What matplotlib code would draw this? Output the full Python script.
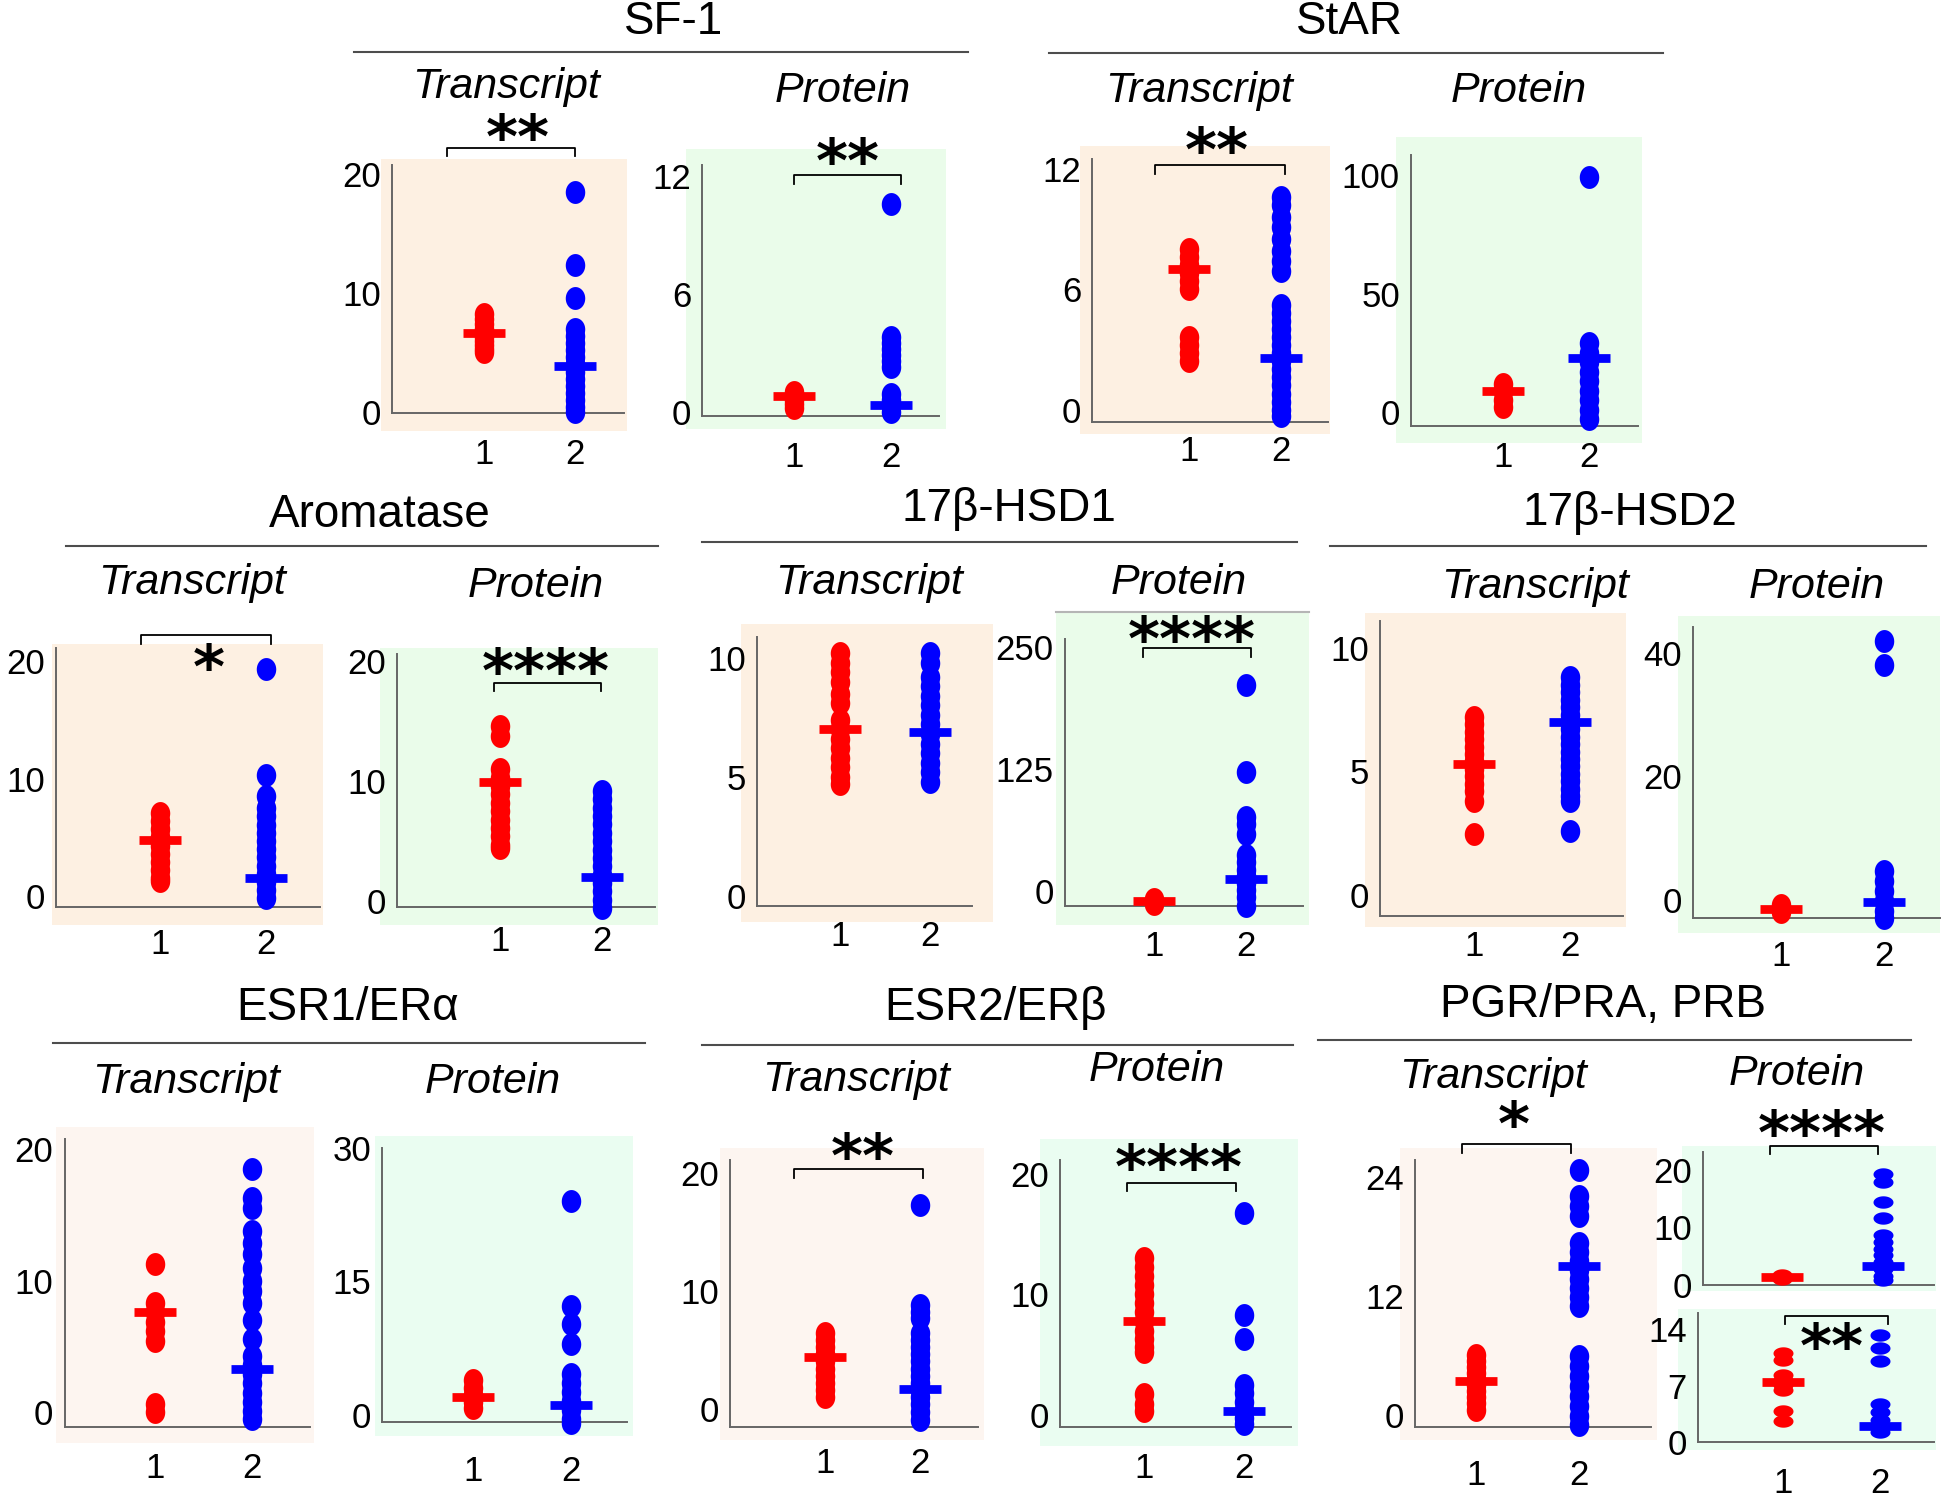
import numpy as np
import matplotlib.pyplot as plt
from matplotlib.path import Path
from matplotlib.patches import Rectangle
from matplotlib.lines import Line2D

plt.rcParams['font.family'] = ['Liberation Sans', 'DejaVu Sans']

# values: group 1 (red), group 2 (blue), bar levels [g1, g2]
sf1_tr_g1 = [8.2, 7.8, 7.4, 7.0, 6.6, 6.3, 6.0, 5.6, 5.3, 5.0]
sf1_tr_g2 = [18.5, 12.3, 9.6, 7.0, 6.4, 5.8, 5.2, 4.6, 4.0, 3.4, 2.8, 2.2, 1.6, 1.0, 0.4, 0.0]
sf1_tr_bar = [6.6, 3.9]
sf1_pr_g1 = [1.0, 0.8, 0.6, 0.4, 0.2]
sf1_pr_g2 = [10.6, 3.8, 3.5, 3.2, 2.9, 2.6, 2.3, 0.9, 0.6, 0.3, 0.0]
sf1_pr_bar = [0.8, 0.35]

star_tr_g1 = [8.0, 7.6, 7.2, 6.8, 6.4, 6.0, 3.6, 3.2, 2.8, 2.4]
star_tr_g2 = [10.6, 10.2, 9.6, 9.1, 8.5, 7.9, 7.4, 6.9, 5.2, 4.8, 4.4, 4.0, 3.6, 3.2,
              2.8, 2.4, 2.0, 1.6, 1.2, 0.8, 0.4, 0.0, -0.3]
star_tr_bar = [7.0, 2.55]
star_pr_g1 = [12, 9, 5, 2]
star_pr_g2 = [99, 29, 25, 21, 17, 13, 9, 5, 1, -3]
star_pr_bar = [9, 23]

arom_tr_g1 = [7.1, 6.4, 5.7, 5.0, 4.3, 3.6, 2.9, 2.2, 1.5, 1.3]
arom_tr_g2 = [19.4, 10.3, 8.5, 7.5, 6.8, 6.1, 5.4, 4.7, 4.0, 3.3, 2.6, 1.9, 1.2, 0.5, -0.2]
arom_tr_bar = [4.8, 1.5]
arom_pr_g1 = [14.6, 13.8, 11.0, 10.3, 9.6, 8.9, 8.2, 7.5, 6.8, 6.1, 5.4, 4.7, 4.4]
arom_pr_g2 = [9.2, 8.5, 7.8, 7.1, 6.4, 5.7, 5.0, 4.3, 3.6, 2.9, 2.2, 1.5, 0.8, 0.1, -0.6]
arom_pr_bar = [9.9, 2.0]

hsd1_tr_g1 = [10.2, 9.8, 9.4, 9.0, 8.5, 8.1, 7.4, 7.0, 6.6, 6.2, 5.8, 5.4, 5.0, 4.7]
hsd1_tr_g2 = [10.2, 9.8, 9.2, 8.8, 8.4, 8.0, 7.6, 7.2, 6.8, 6.4, 6.0, 5.6, 5.2, 4.8]
hsd1_tr_bar = [7.0, 6.9]
hsd1_pr_g1 = [-8, -13]
hsd1_pr_g2 = [211, 122, 76, 69, 58, 37, 30, 22, 15, 8, 1, -6, -15]
hsd1_pr_bar = [-10, 12.6]

hsd2_tr_g1 = [7.2, 6.9, 6.6, 6.3, 6.0, 5.7, 5.4, 5.1, 4.8, 4.5, 4.2, 3.8, 2.45]
hsd2_tr_g2 = [8.8, 8.5, 8.2, 7.9, 7.6, 7.3, 7.0, 6.7, 6.4, 6.1, 5.8, 5.5, 5.2, 4.9,
              4.6, 4.3, 4.0, 3.8, 2.6]
hsd2_tr_bar = [5.3, 7.0]
hsd2_pr_g1 = [-0.8, -2.0]
hsd2_pr_g2 = [41.9, 38.1, 4.6, 3.0, 1.4, -0.2, -1.8, -3.0]
hsd2_pr_bar = [-1.5, -0.4]

esr1_tr_g1 = [11.3, 8.3, 7.6, 6.9, 6.2, 5.4, 0.6, 0.0]
esr1_tr_g2 = [18.5, 16.3, 15.5, 13.8, 12.9, 12.0, 11.0, 10.0, 9.2, 8.3, 7.0, 5.6, 4.3,
              3.6, 2.9, 2.2, 1.5, 0.8, 0.1, -0.5]
esr1_tr_bar = [7.6, 3.3]
esr1_pr_g1 = [3.9, 3.0, 2.2, 1.5, 0.8]
esr1_pr_g2 = [24.0, 12.2, 10.2, 8.0, 4.6, 3.6, 2.6, 1.6, 0.6, -0.4, -0.9]
esr1_pr_bar = [2.0, 1.1]

esr2_tr_g1 = [6.4, 5.8, 5.2, 4.6, 4.0, 3.4, 2.8, 2.2, 1.6, 1.0]
esr2_tr_g2 = [17.3, 8.8, 8.2, 7.7, 6.4, 5.8, 5.2, 4.6, 4.0, 3.4, 2.8, 2.2, 1.6, 1.0,
              0.4, -0.3, -1.0]
esr2_tr_bar = [4.4, 1.7]
esr2_pr_g1 = [13.0, 12.3, 11.5, 10.8, 10.0, 9.3, 8.5, 7.8, 7.0, 6.3, 5.6, 5.2, 1.7, 0.9, 0.3]
esr2_pr_g2 = [16.8, 8.3, 6.3, 2.5, 1.8, 1.1, 0.4, -0.3, -0.8]
esr2_pr_bar = [7.8, 0.3]

pgr_tr_g1 = [6.0, 5.4, 4.8, 4.2, 3.6, 3.0, 2.4, 1.8, 1.2, 0.5]
pgr_tr_g2 = [24.7, 22.0, 21.0, 20.0, 17.3, 16.4, 15.5, 14.6, 13.7, 12.8, 11.9, 11.0,
             5.9, 4.9, 3.9, 2.9, 1.9, 0.9, -0.1, -1.0]
pgr_tr_bar = [3.4, 15.0]
pra_pr_g1 = [1.0, 1.6]
pra_pr_g2 = [19.4, 18.0, 14.5, 11.6, 8.7, 7.5, 6.3, 5.1, 3.9, 2.7, 1.5, 0.8]
pra_pr_bar = [1.4, 3.3]
prb_pr_g1 = [11.0, 10.2, 8.3, 7.7, 7.1, 6.5, 3.9, 2.6]
prb_pr_g2 = [13.2, 11.6, 10.0, 4.7, 3.7, 2.8, 2.0, 1.2]
prb_pr_bar = [7.5, 2.0]

W, H = 1946, 1496
K = W / 1568.0   # layout numbers below are in preview pixels
TICK_FS = 25

fig = plt.figure(figsize=(W / 100, H / 100), dpi=100)


def fx(x):
    return x * K / W


def fy(y):
    return 1 - y * K / H


theta = np.linspace(0, 2 * np.pi, 48)
tall_dot = Path(np.column_stack([0.85 * np.cos(theta), np.sin(theta)]))
flat_dot = Path(np.column_stack([np.cos(theta), 0.62 * np.sin(theta)]))

PEACH = '#fdf0e2'
GREEN = '#eafcea'
PINK = '#fdf5f0'
MINT = '#eafdf1'


def panel(g1, g2, bar, bg, box, px, ticks, col, lab_y=None, dot=tall_dot, ms=16.5):
    x0, y0, x1, y1 = bg
    fig.add_artist(Rectangle((fx(x0), fy(y1)), fx(x1) - fx(x0), fy(y0) - fy(y1),
                             transform=fig.transFigure, facecolor=col,
                             edgecolor='none', zorder=-1))
    left, top, right, bottom = box
    ax = fig.add_axes([fx(left), fy(bottom), fx(right) - fx(left), fy(top) - fy(bottom)])
    ax.patch.set_visible(False)
    p1, p2 = px
    u = p2 - p1
    ax.set_xlim(1 - (p1 - left) / u, 2 + (right - p2) / u)
    t0, tt, vals = ticks
    s = (t0 - tt) / vals[-1]
    ax.set_ylim((t0 - bottom) / s, (t0 - top) / s)
    ax.plot(np.ones(len(g1)), g1, ls='none', marker=dot, ms=ms, mfc='#ff0000',
            mec='none', clip_on=False, zorder=3)
    ax.plot(np.full(len(g2), 2), g2, ls='none', marker=dot, ms=ms, mfc='#0000ff',
            mec='none', clip_on=False, zorder=4)
    hw = 21 / (u * K)
    ax.hlines(bar, [1 - hw, 2 - hw], [1 + hw, 2 + hw], colors=['#ff0000', '#0000ff'],
              lw=6.3, zorder=5)
    for side in ('top', 'right'):
        ax.spines[side].set_visible(False)
    for side in ('left', 'bottom'):
        ax.spines[side].set_color('#666666')
        ax.spines[side].set_linewidth(1.4)
    ax.set_yticks(vals)
    ax.set_yticklabels([str(v) for v in vals])
    ax.tick_params(axis='y', length=0, pad=8, labelsize=TICK_FS)
    if lab_y is None:
        ax.set_xticks([])
    else:
        ax.set_xticks([1, 2])
        ax.set_xticklabels(['1', '2'])
        em = TICK_FS * 100 / 72
        pad = ((lab_y - bottom) * K - 0.37 * em) * 72 / 100
        ax.tick_params(axis='x', length=0, pad=pad, labelsize=TICK_FS)
    return ax


def header(name, cx, cy, x0, x1, ly):
    fig.text(fx(cx), fy(cy), name, fontsize=33, ha='center', va='center')
    fig.add_artist(Line2D([fx(x0), fx(x1)], [fy(ly), fy(ly)], color='#4d4d4d', lw=1.5))


def sub(label, cx, cy):
    fig.text(fx(cx), fy(cy), label, fontsize=31, style='italic', ha='center', va='center')


def bracket(x0, x1, y, stars, sx, sy):
    d = 7
    fig.add_artist(Line2D([fx(x0), fx(x0), fx(x1), fx(x1)],
                          [fy(y + d), fy(y), fy(y), fy(y + d)], color='black', lw=1.3))
    fs = 44
    em = fs * 100 / 72
    fig.text(fx(sx), fy(sy + 0.5 * em / K), stars, fontsize=fs, family='DejaVu Sans',
             fontweight='bold', ha='center', va='baseline')


# ---- row 1
header('SF-1', 543, 18, 285, 780, 42)
header('StAR', 1087, 18, 845, 1340, 43)
sub('Transcript', 408, 70); sub('Protein', 679, 73)
sub('Transcript', 966, 73); sub('Protein', 1224, 73)
panel(sf1_tr_g1, sf1_tr_g2, sf1_tr_bar, (307, 128, 505, 347), (316, 133, 503, 333),
      (390, 463), (332, 140, [0, 10, 20]), PEACH, 363)
panel(sf1_pr_g1, sf1_pr_g2, sf1_pr_bar, (553, 120, 762, 346), (566, 133, 757, 335),
      (640, 718), (332, 142, [0, 6, 12]), GREEN, 366)
panel(star_tr_g1, star_tr_g2, star_tr_bar, (870, 118, 1072, 350), (880, 128, 1070, 340),
      (958, 1032), (330, 136, [0, 6, 12]), PEACH, 361)
panel(star_pr_g1, star_pr_g2, star_pr_bar, (1125, 110, 1323, 357), (1137, 125, 1320, 343),
      (1211, 1280), (332, 141, [0, 50, 100]), GREEN, 366)
bracket(360, 463, 119, '**', 417, 103)
bracket(640, 726, 141, '**', 683, 122)
bracket(931, 1035, 133, '**', 980, 113)

# ---- row 2
header('Aromatase', 306, 415, 53, 530, 440)
header('17\u03b2-HSD1', 813, 410, 566, 1045, 437)
header('17\u03b2-HSD2', 1313, 413, 1072, 1552, 440)
sub('Transcript', 155, 470); sub('Protein', 432, 472)
sub('Transcript', 700, 470); sub('Protein', 950, 470)
sub('Transcript', 1237, 473); sub('Protein', 1464, 473)
panel(arom_tr_g1, arom_tr_g2, arom_tr_bar, (42, 519, 260, 745), (45, 522, 258, 731),
      (129, 214), (722, 533, [0, 10, 20]), PEACH, 758)
panel(arom_pr_g1, arom_pr_g2, arom_pr_bar, (306, 522, 530, 745), (320, 527, 528, 731),
      (403, 485), (726, 533, [0, 10, 20]), GREEN, 756)
panel(hsd1_tr_g1, hsd1_tr_g2, hsd1_tr_bar, (597, 503, 800, 743), (610, 513, 783, 730),
      (677, 749), (722, 530, [0, 5, 10]), PEACH, 752)
panel(hsd1_pr_g1, hsd1_pr_g2, hsd1_pr_bar, (851, 492, 1055, 745), (858, 515, 1050, 730),
      (930, 1004), (718, 521, [0, 125, 250]), GREEN, 760)
fig.add_artist(Line2D([fx(851), fx(1055)], [fy(493), fy(493)], color='#b5b5b5', lw=1.5))
panel(hsd2_tr_g1, hsd2_tr_g2, hsd2_tr_bar, (1100, 494, 1310, 747), (1112, 500, 1308, 738),
      (1188, 1265), (721, 522, [0, 5, 10]), PEACH, 760)
panel(hsd2_pr_g1, hsd2_pr_g2, hsd2_pr_bar, (1352, 496, 1563, 752), (1364, 505, 1563, 740),
      (1435, 1518), (725, 526, [0, 20, 40]), GREEN, 768)
bracket(114, 218, 512, '*', 168, 530)
bracket(398, 484, 550, '****', 440, 533)
bracket(921, 1008, 522, '****', 960, 507)

# ---- row 3
header('ESR1/ER\u03b1', 280, 812, 43, 520, 840)
header('ESR2/ER\u03b2', 802, 812, 566, 1042, 842)
header('PGR/PRA, PRB', 1292, 810, 1062, 1540, 838)
sub('Transcript', 150, 872); sub('Protein', 397, 872)
sub('Transcript', 690, 870); sub('Protein', 932, 862)
sub('Transcript', 1203, 868); sub('Protein', 1448, 865)
panel(esr1_tr_g1, esr1_tr_g2, esr1_tr_bar, (45, 908, 253, 1163), (52, 918, 250, 1150),
      (125, 203), (1138, 926, [0, 10, 20]), PINK, 1180)
panel(esr1_pr_g1, esr1_pr_g2, esr1_pr_bar, (302, 915, 510, 1157), (308, 925, 505, 1146),
      (381, 460), (1140, 920, [0, 15, 30]), MINT, 1183)
panel(esr2_tr_g1, esr2_tr_g2, esr2_tr_bar, (580, 925, 793, 1160), (588, 935, 788, 1150),
      (665, 741), (1135, 945, [0, 10, 20]), PINK, 1176)
panel(esr2_pr_g1, esr2_pr_g2, esr2_pr_bar, (838, 918, 1046, 1165), (854, 935, 1040, 1150),
      (922, 1002), (1140, 946, [0, 10, 20]), MINT, 1180)
panel(pgr_tr_g1, pgr_tr_g2, pgr_tr_bar, (1128, 925, 1335, 1160), (1140, 935, 1330, 1150),
      (1189, 1272), (1140, 948, [0, 12, 24]), PINK, 1186)
panel(pra_pr_g1, pra_pr_g2, pra_pr_bar, (1355, 923, 1560, 1040), (1372, 928, 1558, 1035),
      (1436, 1517), (1035, 943, [0, 10, 20]), MINT, None, flat_dot, 14.4)
panel(prb_pr_g1, prb_pr_g2, prb_pr_bar, (1352, 1055, 1560, 1168), (1368, 1058, 1558, 1162),
      (1437, 1515), (1163, 1071, [0, 7, 14]), MINT, 1192, flat_dot, 14.4)
bracket(640, 744, 942, '**', 695, 924)
bracket(908, 996, 953, '****', 950, 933)
bracket(1178, 1266, 922, '*', 1220, 898)
bracket(1426, 1513, 923, '****', 1468, 905)
bracket(1438, 1521, 1060, '**', 1476, 1077)

fig.savefig('out.png', dpi=100)
